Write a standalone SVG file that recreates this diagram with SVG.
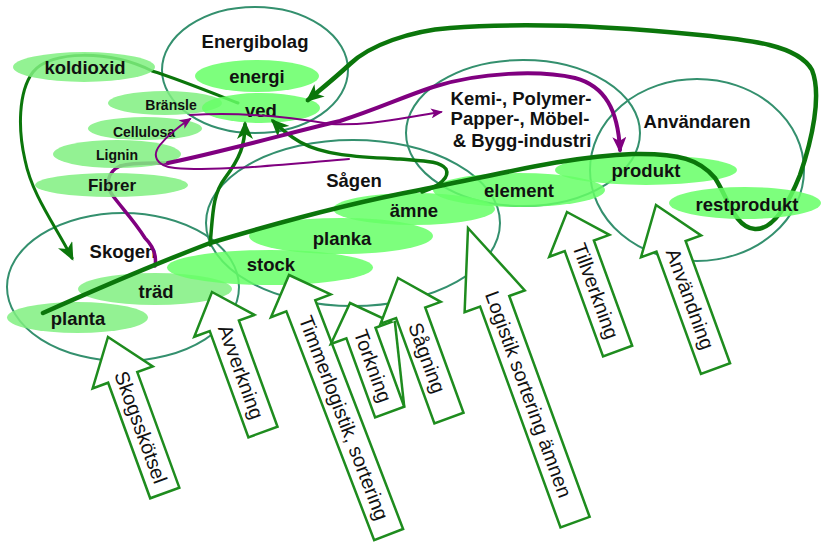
<svg xmlns="http://www.w3.org/2000/svg" width="821" height="543" viewBox="0 0 821 543">
  <defs>
    <style>
      .zone{fill:none;stroke:#34906e;stroke-width:2}
      .lbl{font-family:"Liberation Sans",Arial,sans-serif;font-weight:bold;font-size:18.5px;fill:#111;text-anchor:middle}
      .sm{font-size:14px}
      .md{font-size:17px}
      .hi{fill:#66ff66;fill-opacity:.85}
      .lo{fill:#80f080;fill-opacity:.85}
      .flow{fill:none;stroke:#0b760b;stroke-width:4.5;stroke-linecap:round;stroke-linejoin:round}
      .feed{fill:none;stroke:#0b760b;stroke-width:3.5;stroke-linecap:round}
      .link{fill:none;stroke:#0b760b;stroke-width:2.5;stroke-linecap:round}
      .pk{fill:none;stroke:#800080;stroke-width:4;stroke-linecap:round}
      .pn{fill:none;stroke:#800080;stroke-width:2;stroke-linecap:round}
      .blk{fill:#fff;stroke:#1e8c1e;stroke-width:2.5;stroke-linejoin:miter}
      .bln{fill:none;stroke:#1e8c1e;stroke-width:2.5}
      .blt{font-family:"Liberation Sans",Arial,sans-serif;font-size:20px;fill:#111;text-anchor:middle;dominant-baseline:central}
    </style>
    <marker id="ahG" viewBox="0 0 18 16" refX="15" refY="8" markerWidth="18" markerHeight="16" markerUnits="userSpaceOnUse" orient="auto">
      <path d="M0,0 L18,8 L0,16 L5,8 Z" fill="#0b760b"/>
    </marker>
    <marker id="ahP" viewBox="0 0 16 14" refX="13" refY="7" markerWidth="16" markerHeight="14" markerUnits="userSpaceOnUse" orient="auto">
      <path d="M0,0 L16,7 L0,14 L4,7 Z" fill="#800080"/>
    </marker>
    <marker id="ahp" viewBox="0 0 12 10" refX="10" refY="5" markerWidth="12" markerHeight="10" markerUnits="userSpaceOnUse" orient="auto">
      <path d="M0,0 L12,5 L0,10 L3,5 Z" fill="#800080"/>
    </marker>
  </defs>

  <!-- actor zones -->
  <g id="energibolag">
    <ellipse class="zone" cx="255" cy="70" rx="93" ry="63"/>
    <text class="lbl" x="255" y="48">Energibolag</text>
  </g>
  <g id="skogen">
    <ellipse class="zone" cx="123" cy="287" rx="116" ry="74"/>
    <text class="lbl" x="123" y="258">Skogen</text>
  </g>
  <g id="sagen">
    <ellipse class="zone" cx="353" cy="223" rx="147" ry="83"/>
    <text class="lbl" x="354" y="187">Sågen</text>
  </g>
  <g id="industri">
    <ellipse class="zone" cx="523" cy="133" rx="117" ry="73"/>
    <text class="lbl" x="521" y="105">Kemi-, Polymer-</text>
    <text class="lbl" x="520" y="125">Papper-, Möbel-</text>
    <text class="lbl" x="522" y="147">&amp; Bygg-industri</text>
  </g>
  <g id="anvandaren">
    <ellipse class="zone" cx="697" cy="170" rx="107" ry="91"/>
    <text class="lbl" x="697" y="128">Användaren</text>
  </g>

  <!-- connectors running beneath the product ellipses -->
  <g id="connectors-under">
    <path class="feed" style="stroke-width:3" d="M238,103 C205,90 175,78 152,71 C110,50 50,50 33,72 C18,92 18,130 25,160 C32,195 55,225 72,258" marker-end="url(#ahG)"/>
    <path class="pk" style="stroke-width:3.5" d="M155,266 C157,255 152,245 145,238 C135,222 122,208 113,196 C105,185 107,172 120,166 C133,162 150,163 168,163"/>
  </g>

  <!-- products -->
  <g id="koldioxid"><ellipse class="lo" cx="84" cy="67" rx="71" ry="15"/><text class="lbl" x="85" y="74">koldioxid</text></g>
  <g id="bransle"><ellipse class="lo" cx="165" cy="103" rx="57" ry="12"/><text class="lbl sm" x="171" y="110">Bränsle</text></g>
  <g id="cellulosa"><ellipse class="lo" cx="145" cy="128.5" rx="57" ry="11.5"/><text class="lbl sm" x="144" y="137">Cellulosa</text></g>
  <g id="lignin"><ellipse class="lo" cx="117" cy="154" rx="64" ry="14"/><text class="lbl sm" x="117" y="160">Lignin</text></g>
  <g id="fibrer"><ellipse class="lo" cx="111.5" cy="185" rx="76.5" ry="12"/><text class="lbl md" x="112" y="191">Fibrer</text></g>
  <g id="energi"><ellipse class="hi" cx="257" cy="76" rx="62" ry="16"/><text class="lbl" x="257" y="83">energi</text></g>
  <g id="ved"><ellipse class="hi" cx="261" cy="108" rx="59" ry="15"/><text class="lbl" x="261" y="117">ved</text></g>
  <g id="trad"><ellipse class="lo" cx="155" cy="289" rx="77" ry="16"/><text class="lbl" x="156" y="298">träd</text></g>
  <g id="planta"><ellipse class="lo" cx="77.5" cy="317.5" rx="70.5" ry="15.5"/><text class="lbl" x="78" y="325">planta</text></g>
  <g id="amne"><ellipse class="hi" cx="414" cy="209" rx="81" ry="16"/><text class="lbl" x="414" y="217">ämne</text></g>
  <g id="planka"><ellipse class="hi" cx="341" cy="236" rx="92" ry="18"/><text class="lbl" x="342" y="245">planka</text></g>
  <g id="stock"><ellipse class="hi" cx="270" cy="267.5" rx="103" ry="17.5"/><text class="lbl" x="271" y="271">stock</text></g>
  <g id="element"><ellipse class="hi" cx="519" cy="190" rx="86" ry="17"/><text class="lbl" x="519" y="197">element</text></g>
  <g id="produkt"><ellipse class="hi" cx="646" cy="170" rx="91" ry="15"/><text class="lbl" x="646" y="177">produkt</text></g>

  <!-- material flows -->
  <g id="connectors">
    <path class="flow" d="M43,313 C90,292 150,266 210,243 C270,225 350,203 420,190 C500,174 570,156 633,154 C680,153 700,160 715,178 C728,198 735,228 755,229 C775,230 790,200 800,175 C812,140 822,95 812,70 C798,45 750,40 700,35 C620,27 530,22 450,28 C410,31 370,45 350,64 C335,78 320,90 308,100" marker-end="url(#ahG)"/>
    <path class="feed" d="M210,245 C213,215 212,195 225,178 C240,158 245,145 245,124" marker-end="url(#ahG)"/>
    <path class="feed" d="M422,192 C440,186 450,177 446,169 C440,161 425,161 400,159 C360,157 325,156 300,142 C288,135 280,128 273,121" marker-end="url(#ahG)"/>
    <path class="pk" d="M168,163 C230,150 300,130 340,121 C380,108 400,98 433,87 C480,72 540,70 575,78 C605,86 618,110 620,150" marker-end="url(#ahP)"/>
    <path class="pn" d="M190,115 C240,112 290,117 330,124 C370,126 400,118 441,112" marker-end="url(#ahp)"/>
    <path class="pn" d="M349,159 C300,163 220,172 175,168 C155,166 152,155 160,145 C168,135 178,127 190,119" marker-end="url(#ahp)"/>
  </g>

  <g id="restprodukt"><ellipse class="hi" cx="745" cy="203" rx="76" ry="16"/><text class="lbl" x="747" y="211">restprodukt</text></g>

  <!-- activity arrows -->
  <g id="skogsskotsel" transform="translate(108,337) rotate(-20)">
    <path class="blk" d="M0,0 L32,43 L15.5,43 L15.5,166 L-15.5,166 L-15.5,43 L-32,43 Z"/>
    <text class="blt" transform="translate(0,96) rotate(90)">Skogsskötsel</text>
  </g>
  <g id="avverkning" transform="translate(212,292) rotate(-20)">
    <path class="blk" d="M0,0 L32,36 L15.5,36 L15.5,149 L-15.5,149 L-15.5,36 L-32,36 Z"/>
    <text class="blt" transform="translate(0,85) rotate(90)">Avverkning</text>
  </g>
  <g id="timmerlogistik" transform="translate(289,275) rotate(-21)">
    <path class="blk" d="M0,0 L32,33 L15.5,33 L15.5,278 L-15.5,278 L-15.5,33 L-32,33 Z"/>
    <text class="blt" transform="translate(0,153) rotate(90)">Timmerlogistik, sortering</text>
  </g>
  <g id="torkning" transform="translate(350,303) rotate(-20)">
    <path class="blk" d="M0,0 L32,32 L15.5,32 L15.5,116 L-15.5,116 L-15.5,32 L-32,32 Z"/>
    <path class="bln" d="M36,32 L15.5,116"/>
    <text class="blt" transform="translate(0,67) rotate(90)">Torkning</text>
  </g>
  <g id="sagning" transform="translate(398,278) rotate(-20)">
    <path class="blk" d="M0,0 L32,37 L15.5,37 L15.5,149 L-15.5,149 L-15.5,37 L-32,37 Z"/>
    <text class="blt" transform="translate(0,85) rotate(90)">Sågning</text>
  </g>
  <g id="logistik" transform="translate(468,228) rotate(-20)">
    <path class="blk" d="M0,0 L32,78 L15.5,78 L15.5,313 L-15.5,313 L-15.5,78 L-32,78 Z"/>
    <text class="blt" transform="translate(0,177) rotate(90)">Logistik sortering ämnen</text>
  </g>
  <g id="tillverkning" transform="translate(567,212) rotate(-20)">
    <path class="blk" d="M0,0 L32,36 L15.5,36 L15.5,148 L-15.5,148 L-15.5,36 L-32,36 Z"/>
    <text class="blt" transform="translate(0,84) rotate(90)">Tillverkning</text>
  </g>
  <g id="anvandning" transform="translate(656,205) rotate(-20)">
    <path class="blk" d="M0,0 L32,44 L15.5,44 L15.5,174 L-15.5,174 L-15.5,44 L-32,44 Z"/>
    <text class="blt" transform="translate(0,100) rotate(90)">Användning</text>
  </g>
</svg>
